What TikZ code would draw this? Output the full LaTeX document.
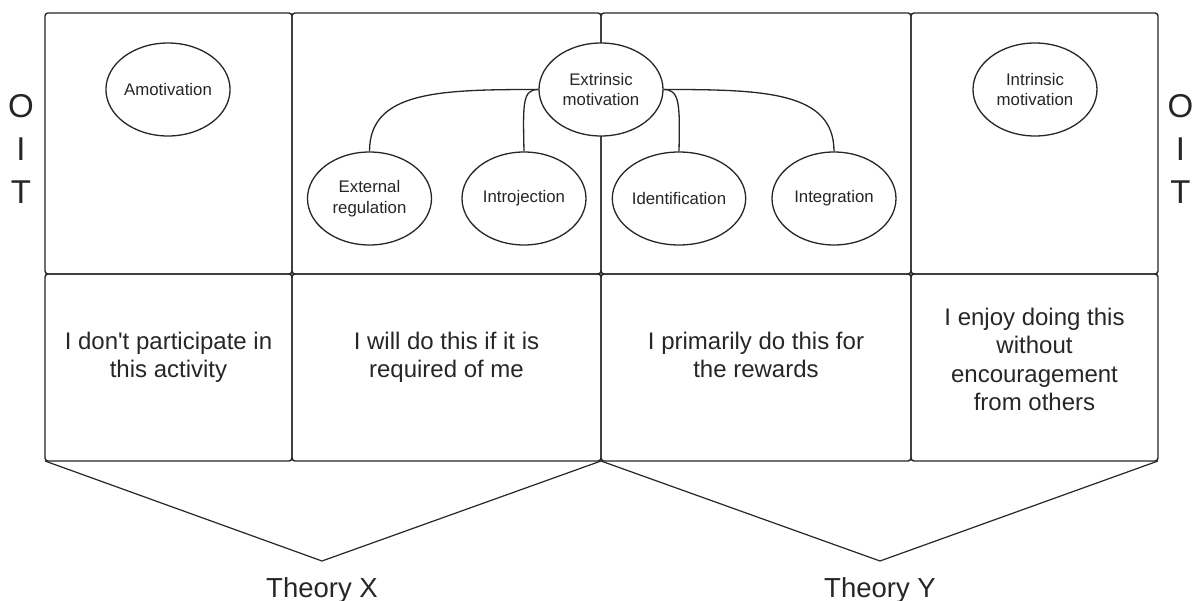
\documentclass[tikz,border=0pt]{standalone}
\usepackage{fontspec}
\setmainfont{Liberation Sans}
% plain family: keeps the typewriter apostrophe straight
\newfontfamily\plainsans{Liberation Sans}
\usetikzlibrary{shapes.geometric}
\definecolor{ink}{HTML}{262626}
\begin{document}
\begin{tikzpicture}[x=1pt,y=-1pt,
  cell/.style={draw=ink, line width=1.4pt, rounded corners=3pt, anchor=north west,
    inner sep=0pt, outer sep=0pt},
  oval/.style={ellipse, draw=ink, line width=1.3pt, fill=white, minimum width=124pt,
    minimum height=93pt, inner sep=0pt, align=center, text=ink,
    font=\plainsans\fontsize{16.8}{20.5}\selectfont},
  body/.style={align=center, inner sep=0pt, text=ink,
    font=\plainsans\fontsize{24}{28.5}\selectfont},
  side/.style={align=center, inner sep=0pt, text=ink,
    font=\plainsans\fontsize{33}{43}\selectfont},
  theory/.style={anchor=base, inner sep=0pt, text=ink,
    font=\plainsans\fontsize{27.5}{33}\selectfont},
  link/.style={draw=ink, line width=1.3pt},
  chev/.style={draw=ink, line width=1.2pt, line join=round}]
\useasboundingbox (0,0) rectangle (1194,601);

% upper row
\node[cell, minimum width=247pt, minimum height=261pt] (a1) at (45,13) {};
\node[cell, minimum width=309pt, minimum height=261pt] (a2) at (292,13) {};
\node[cell, minimum width=310pt, minimum height=261pt] (a3) at (601,13) {};
\node[cell, minimum width=247pt, minimum height=261pt] (a4) at (911,13) {};
% lower row
\node[cell, minimum width=247pt, minimum height=187pt] (b1) at (45,274) {};
\node[cell, minimum width=309pt, minimum height=187pt] (b2) at (292,274) {};
\node[cell, minimum width=310pt, minimum height=187pt] (b3) at (601,274) {};
\node[cell, minimum width=247pt, minimum height=187pt] (b4) at (911,274) {};

% motivation types
\node[oval] (amot) at (168,89.5) {Amotivation};
\node[oval] (extr) at (601,89.5) {Extrinsic\\motivation};
\node[oval] (intr) at (1035,89.5) {Intrinsic\\motivation};
\node[oval] (extreg) at (369.5,198.5) {External\\regulation};
\node[oval] (introj) at (524,198.5) {Introjection};
\node[oval] (ident) at (679,198.5) {Identification};
\node[oval] (integ) at (834,198.5) {Integration};

% branches of extrinsic motivation
\draw[link] (extr.west) .. controls +(-100,0) and +(0,-60) .. (extreg.north);
\draw[link] (extr.west) .. controls +(-16,0) and +(-1,-48) .. (introj.north);
\draw[link] (extr.east) .. controls +(16,0) and +(1,-48) .. (ident.north);
\draw[link] (extr.east) .. controls +(100,0) and +(0,-60) .. (integ.north);

% statements
\node[body] (s1) at ([yshift=10.2pt]b1.center) {I don't participate in\\this activity};
\node[body] (s2) at ([yshift=10.2pt]b2.center) {I will do this if it is\\required of me};
\node[body] (s3) at ([yshift=12.5pt]b3.center) {I primarily do this for\\the rewards};
\node[body] (s4) at ([yshift=8pt]b4.center) {I enjoy doing this\\without\\encouragement\\from others};

% side labels
\node[side] (oitl) at (21,148.5) {O\\I\\T};
\node[side] (oitr) at (1180.5,148.5) {O\\I\\T};

% theory brackets
\coordinate (tx) at (322,561);
\coordinate (ty) at (880,561);
\draw[chev] (b1.south west) -- (tx) -- (b2.south east);
\draw[chev] (b3.south west) -- (ty) -- (b4.south east);
\node[theory] (thx) at (322,597.5) {Theory X};
\node[theory] (thy) at (880,597.5) {Theory Y};
\end{tikzpicture}
\end{document}
